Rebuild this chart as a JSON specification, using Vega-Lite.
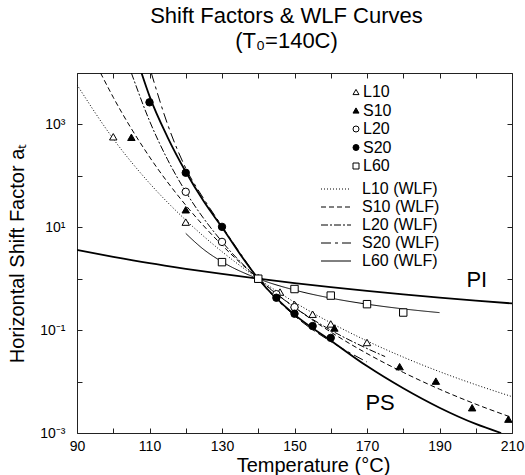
{
  "$schema": "https://vega.github.io/schema/vega-lite/v6.json",
  "width": 435,
  "height": 360,
  "autosize": {"type": "none"},
  "padding": {"left": 77, "top": 73, "right": 13, "bottom": 42},
  "background": "white",
  "config": {
    "view": {"stroke": "#222", "strokeWidth": 1},
    "font": "Liberation Sans",
    "axis": {"grid": false, "domain": false, "tickColor": "#222", "tickSize": -5, "labelFont": "Liberation Sans", "labelFontSize": 14, "labelColor": "black", "titleFont": "Liberation Sans", "titleFontSize": 20, "titleFontWeight": "normal", "titleColor": "black"}
  },
  "title": {"text": "Shift Factors & WLF Curves", "subtitle": "(T₀=140C)", "fontSize": 22, "subtitleFontSize": 22, "font": "Liberation Sans", "subtitleFont": "Liberation Sans", "fontWeight": "normal", "color": "black", "subtitleColor": "black", "anchor": "middle", "frame": "group", "offset": 20, "subtitlePadding": 3, "dx": -8},
  "datasets": {
    "ref": [
      {"curve": "PS", "T": 107.8, "aT": 10000}, {"curve": "PS", "T": 110, "aT": 3550}, {"curve": "PS", "T": 115, "aT": 562}, {"curve": "PS", "T": 120, "aT": 120}, {"curve": "PS", "T": 125, "aT": 31.6}, {"curve": "PS", "T": 130, "aT": 10}, {"curve": "PS", "T": 135, "aT": 3.0}, {"curve": "PS", "T": 140, "aT": 1}, {"curve": "PS", "T": 150, "aT": 0.2}, {"curve": "PS", "T": 160, "aT": 0.063}, {"curve": "PS", "T": 170, "aT": 0.02}, {"curve": "PS", "T": 180, "aT": 0.0074}, {"curve": "PS", "T": 190, "aT": 0.0031}, {"curve": "PS", "T": 200, "aT": 0.0015}, {"curve": "PS", "T": 207, "aT": 0.001},
      {"curve": "PI", "T": 90, "aT": 3.63}, {"curve": "PI", "T": 100, "aT": 2.66}, {"curve": "PI", "T": 110, "aT": 2.0}, {"curve": "PI", "T": 120, "aT": 1.56}, {"curve": "PI", "T": 130, "aT": 1.24}, {"curve": "PI", "T": 140, "aT": 1}, {"curve": "PI", "T": 150, "aT": 0.822}, {"curve": "PI", "T": 160, "aT": 0.687}, {"curve": "PI", "T": 170, "aT": 0.581}, {"curve": "PI", "T": 180, "aT": 0.497}, {"curve": "PI", "T": 190, "aT": 0.43}, {"curve": "PI", "T": 200, "aT": 0.376}, {"curve": "PI", "T": 210, "aT": 0.331}
    ],
    "wlf": [
      {"curve": "L10 (WLF)", "T": 90, "aT": 5900}, {"curve": "L10 (WLF)", "T": 100, "aT": 525}, {"curve": "L10 (WLF)", "T": 110, "aT": 72}, {"curve": "L10 (WLF)", "T": 120, "aT": 13.8}, {"curve": "L10 (WLF)", "T": 130, "aT": 3.36}, {"curve": "L10 (WLF)", "T": 140, "aT": 1}, {"curve": "L10 (WLF)", "T": 150, "aT": 0.349}, {"curve": "L10 (WLF)", "T": 160, "aT": 0.139}, {"curve": "L10 (WLF)", "T": 170, "aT": 0.0617}, {"curve": "L10 (WLF)", "T": 180, "aT": 0.0299}, {"curve": "L10 (WLF)", "T": 190, "aT": 0.0156}, {"curve": "L10 (WLF)", "T": 200, "aT": 0.00869}, {"curve": "L10 (WLF)", "T": 210, "aT": 0.0051},
      {"curve": "S10 (WLF)", "T": 96.5, "aT": 10000}, {"curve": "S10 (WLF)", "T": 100, "aT": 3370}, {"curve": "S10 (WLF)", "T": 110, "aT": 234}, {"curve": "S10 (WLF)", "T": 120, "aT": 26.9}, {"curve": "S10 (WLF)", "T": 130, "aT": 4.5}, {"curve": "S10 (WLF)", "T": 140, "aT": 1}, {"curve": "S10 (WLF)", "T": 150, "aT": 0.278}, {"curve": "S10 (WLF)", "T": 160, "aT": 0.092}, {"curve": "S10 (WLF)", "T": 170, "aT": 0.0351}, {"curve": "S10 (WLF)", "T": 180, "aT": 0.0151}, {"curve": "S10 (WLF)", "T": 190, "aT": 0.00711}, {"curve": "S10 (WLF)", "T": 200, "aT": 0.00364}, {"curve": "S10 (WLF)", "T": 210, "aT": 0.002},
      {"curve": "L20 (WLF)", "T": 105, "aT": 10000}, {"curve": "L20 (WLF)", "T": 110, "aT": 1175}, {"curve": "L20 (WLF)", "T": 115, "aT": 206}, {"curve": "L20 (WLF)", "T": 120, "aT": 49}, {"curve": "L20 (WLF)", "T": 130, "aT": 5.25}, {"curve": "L20 (WLF)", "T": 140, "aT": 1}, {"curve": "L20 (WLF)", "T": 150, "aT": 0.278}, {"curve": "L20 (WLF)", "T": 160, "aT": 0.1}, {"curve": "L20 (WLF)", "T": 170, "aT": 0.044}, {"curve": "L20 (WLF)", "T": 175, "aT": 0.0306},
      {"curve": "S20 (WLF)", "T": 110.5, "aT": 10000}, {"curve": "S20 (WLF)", "T": 115, "aT": 1000}, {"curve": "S20 (WLF)", "T": 120, "aT": 141}, {"curve": "S20 (WLF)", "T": 125, "aT": 35.5}, {"curve": "S20 (WLF)", "T": 130, "aT": 10.5}, {"curve": "S20 (WLF)", "T": 135, "aT": 3.16}, {"curve": "S20 (WLF)", "T": 140, "aT": 1}, {"curve": "S20 (WLF)", "T": 150, "aT": 0.19}, {"curve": "S20 (WLF)", "T": 160, "aT": 0.06}, {"curve": "S20 (WLF)", "T": 170, "aT": 0.024},
      {"curve": "L60 (WLF)", "T": 120, "aT": 7.6}, {"curve": "L60 (WLF)", "T": 125, "aT": 3.68}, {"curve": "L60 (WLF)", "T": 130, "aT": 2.14}, {"curve": "L60 (WLF)", "T": 140, "aT": 1}, {"curve": "L60 (WLF)", "T": 150, "aT": 0.603}, {"curve": "L60 (WLF)", "T": 160, "aT": 0.42}, {"curve": "L60 (WLF)", "T": 170, "aT": 0.32}, {"curve": "L60 (WLF)", "T": 180, "aT": 0.259}, {"curve": "L60 (WLF)", "T": 190, "aT": 0.219}
    ],
    "pts": [
      {"series": "L10", "T": 100, "aT": 575}, {"series": "L10", "T": 120, "aT": 12.6}, {"series": "L10", "T": 140, "aT": 1}, {"series": "L10", "T": 146, "aT": 0.55}, {"series": "L10", "T": 150, "aT": 0.316}, {"series": "L10", "T": 155, "aT": 0.204}, {"series": "L10", "T": 160, "aT": 0.132}, {"series": "L10", "T": 170, "aT": 0.0575},
      {"series": "S10", "T": 105, "aT": 562}, {"series": "S10", "T": 120, "aT": 21.9}, {"series": "S10", "T": 140, "aT": 1}, {"series": "S10", "T": 161, "aT": 0.11}, {"series": "S10", "T": 179, "aT": 0.0195}, {"series": "S10", "T": 189, "aT": 0.0102}, {"series": "S10", "T": 199, "aT": 0.0031}, {"series": "S10", "T": 209, "aT": 0.00186},
      {"series": "L20", "T": 120, "aT": 49}, {"series": "L20", "T": 130, "aT": 5.2}, {"series": "L20", "T": 140, "aT": 1}, {"series": "L20", "T": 145, "aT": 0.5}, {"series": "L20", "T": 150, "aT": 0.28},
      {"series": "S20", "T": 110, "aT": 2690}, {"series": "S20", "T": 120, "aT": 115}, {"series": "S20", "T": 130, "aT": 10.2}, {"series": "S20", "T": 140, "aT": 1}, {"series": "S20", "T": 145, "aT": 0.427}, {"series": "S20", "T": 150, "aT": 0.209}, {"series": "S20", "T": 155, "aT": 0.12}, {"series": "S20", "T": 160, "aT": 0.0708},
      {"series": "L60", "T": 130, "aT": 2.1}, {"series": "L60", "T": 140, "aT": 1}, {"series": "L60", "T": 150, "aT": 0.63}, {"series": "L60", "T": 160, "aT": 0.47}, {"series": "L60", "T": 170, "aT": 0.32}, {"series": "L60", "T": 180, "aT": 0.22}
    ],
    "labels": [
      {"label": "PI", "T": 200.3, "aT": 0.95},
      {"label": "PS", "T": 173.6, "aT": 0.0038}
    ]
  },
  "resolve": {"axis": {"x": "independent", "y": "independent"}},
  "layer": [
    {
      "data": {"name": "ref"},
      "mark": {"type": "line", "stroke": "black", "strokeWidth": 1.8, "interpolate": "monotone", "clip": true},
      "encoding": {
        "x": {"field": "T", "type": "quantitative", "scale": {"domain": [90, 210], "nice": false, "zero": false},
              "axis": {"orient": "bottom", "values": [90, 100, 110, 120, 130, 140, 150, 160, 170, 180, 190, 200, 210], "labelExpr": "datum.value % 20 == 10 ? datum.label : ''", "title": "Temperature (°C)", "titleFontSize": 20, "titleX": 236, "titleY": 32, "titleBaseline": "middle", "labelPadding": 11, "labelFlush": false}},
        "y": {"field": "aT", "type": "quantitative", "scale": {"type": "log", "domain": [0.001, 10000], "nice": false},
              "axis": {"orient": "left", "values": [0.001, 0.01, 0.1, 1, 10, 100, 1000, 10000], "labelExpr": "round(log(datum.value)/LN10) == 3 ? '10³' : round(log(datum.value)/LN10) == 1 ? '10¹' : round(log(datum.value)/LN10) == -1 ? '10⁻¹' : round(log(datum.value)/LN10) == -3 ? '10⁻³' : ''", "title": "Horizontal Shift Factor aₜ", "labelPadding": 17, "titlePadding": 12, "labelFlush": false}},
        "detail": {"field": "curve"}
      }
    },
    {
      "data": {"name": "wlf"},
      "mark": {"type": "line", "stroke": "black", "strokeWidth": 1, "interpolate": "monotone", "clip": true},
      "encoding": {
        "x": {"field": "T", "type": "quantitative", "scale": {"domain": [90, 210], "nice": false, "zero": false},
              "axis": {"orient": "top", "values": [90, 100, 110, 120, 130, 140, 150, 160, 170, 180, 190, 200, 210], "labels": false, "title": null}},
        "y": {"field": "aT", "type": "quantitative", "scale": {"type": "log", "domain": [0.001, 10000], "nice": false},
              "axis": {"orient": "right", "values": [0.001, 0.01, 0.1, 1, 10, 100, 1000, 10000], "labels": false, "title": null}},
        "strokeDash": {"field": "curve", "type": "nominal",
          "scale": {"domain": ["L10 (WLF)", "S10 (WLF)", "L20 (WLF)", "S20 (WLF)", "L60 (WLF)"], "range": [[1, 2], [5, 3], [7, 2, 2, 2], [10, 4, 3, 4], [1, 0]]},
          "legend": {"title": null, "orient": "none", "legendX": 251, "legendY": 108, "symbolType": "M-3,0L3,0", "symbolSize": 100, "symbolFillColor": "transparent", "symbolStrokeColor": "black", "symbolStrokeWidth": 1, "labelFont": "Liberation Sans", "labelFontSize": 16, "labelColor": "black", "labelOffset": 18, "rowPadding": 2, "padding": 0}}
      }
    },
    {
      "data": {"name": "pts"},
      "mark": {"type": "point", "filled": true, "opacity": 1, "stroke": "black", "strokeWidth": 1, "size": 55, "clip": true},
      "encoding": {
        "x": {"field": "T", "type": "quantitative", "scale": {"domain": [90, 210], "nice": false, "zero": false}, "axis": null},
        "y": {"field": "aT", "type": "quantitative", "scale": {"type": "log", "domain": [0.001, 10000], "nice": false}, "axis": null},
        "shape": {"field": "series", "type": "nominal",
          "scale": {"domain": ["L10", "S10", "L20", "S20", "L60"], "range": ["triangle-up", "triangle-up", "circle", "circle", "square"]},
          "legend": {"title": null, "orient": "none", "legendX": 271, "legendY": 11, "symbolSize": 36, "symbolOpacity": 1, "symbolStrokeColor": "black", "symbolStrokeWidth": 1, "labelFont": "Liberation Sans", "labelFontSize": 16, "labelColor": "black", "labelOffset": -1, "rowPadding": 2.5, "padding": 0,
                     "encode": {"symbols": {"update": {"stroke": {"value": "black"}, "strokeWidth": {"value": 1}, "opacity": {"value": 1}}}}}},
        "fill": {"field": "series", "type": "nominal",
          "scale": {"domain": ["L10", "S10", "L20", "S20", "L60"], "range": ["white", "black", "white", "black", "white"]},
          "legend": {"title": null, "orient": "none", "legendX": 271, "legendY": 11, "symbolSize": 36, "symbolOpacity": 1, "symbolStrokeColor": "black", "symbolStrokeWidth": 1, "labelFont": "Liberation Sans", "labelFontSize": 16, "labelColor": "black", "labelOffset": -1, "rowPadding": 2.5, "padding": 0,
                     "encode": {"symbols": {"update": {"stroke": {"value": "black"}, "strokeWidth": {"value": 1}, "opacity": {"value": 1}}}}}}
      }
    },
    {
      "data": {"name": "labels"},
      "mark": {"type": "text", "font": "Liberation Sans", "fontSize": 22, "color": "black"},
      "encoding": {
        "x": {"field": "T", "type": "quantitative", "scale": {"domain": [90, 210], "nice": false, "zero": false}, "axis": null},
        "y": {"field": "aT", "type": "quantitative", "scale": {"type": "log", "domain": [0.001, 10000], "nice": false}, "axis": null},
        "text": {"field": "label"}
      }
    }
  ]
}
